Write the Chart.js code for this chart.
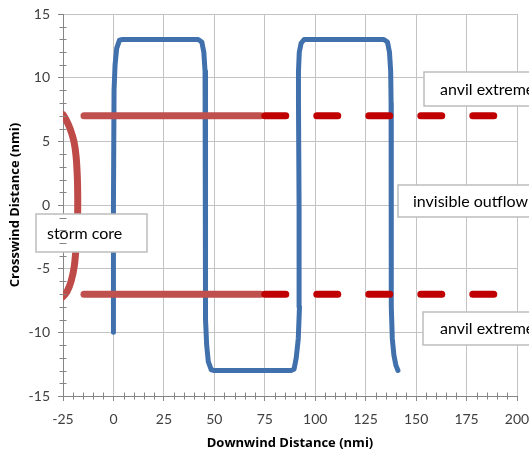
<!DOCTYPE html>
<html>
<head>
<meta charset="utf-8">
<script src="https://cdn.jsdelivr.net/npm/chart.js@4/dist/chart.umd.min.js"></script>
<style>
html,body{margin:0;padding:0;background:#fff;}
#wrap{width:529px;height:454px;position:relative;}
</style>
</head>
<body>
<div id="wrap"><canvas id="c" width="529" height="454"></canvas></div>
<script>
// ---- data ----
const xTicks = [-25, 0, 25, 50, 75, 100, 125, 150, 175, 200];
const yTicks = [-15, -10, -5, 0, 5, 10, 15];

const outflowX = [0, 0, 0.3, 0.8, 1.6, 3, 4.5, 42, 43.8, 44.8, 45.4, 45.6, 45.6, 45.7, 46.2, 47, 48.5, 50,
  88, 89.5, 90.6, 91.6, 92.2, 92.0, 91.7, 91.7, 92.1, 93, 94.5, 96,
  134, 135.8, 136.8, 137.4, 137.6, 137.6, 137.8, 138.2, 139, 140, 141];
const outflowY = [-10, 0, 9, 11, 12.3, 12.95, 13, 13, 12.8, 12, 10.5, 8, 0, -9, -11, -12.3, -12.95, -13,
  -13, -12.9, -12, -10.5, -8, 0, 8, 10.5, 12, 12.7, 13, 13,
  13, 12.8, 12, 10.5, 8, 0, -8, -10.5, -11.8, -12.6, -13];

const coreX = [-25, -23.5, -21.5, -19.6, -18.5, -17.9, -17.7, -17.8, -18.4, -19.4, -21, -23, -25];
const coreY = [7.1, 6.7, 6, 5, 3.8, 2.2, 0.5, -1.2, -3, -4.8, -6, -6.8, -7.2];

const anvilSolidX = [-14.6, 73];
const anvilDashX = [75, 189];
const anvilTopY = 7;
const anvilBottomY = -7;

const labelTexts = ['storm core', 'anvil extreme', 'invisible outflow', 'anvil extreme'];

// ---- build points ----
const pts = (xs, ys) => xs.map((x, i) => ({x: x, y: Array.isArray(ys) ? ys[i] : ys}));

const labelBoxes = [
  {l: 36, t: 214, r: 147, b: 252, tx: 47},
  {l: 424, t: 72, r: 540, b: 106, tx: 440},
  {l: 398, t: 185, r: 540, b: 217, tx: 413},
  {l: 423, t: 312, r: 540, b: 345, tx: 440}
];

const FONT = 'Lato, "Open Sans", sans-serif';
const TFONT = '"Open Sans", Lato, sans-serif';
const AXIS = '#868686';
const GRID = '#C3C3C3';

const minorTicks = {
  id: 'minorTicks',
  afterDraw(chart) {
    const ctx = chart.ctx, xs = chart.scales.x, ys = chart.scales.y, a = chart.chartArea;
    ctx.save();
    ctx.strokeStyle = AXIS; ctx.lineWidth = 1;
    ctx.beginPath();
    for (let v = xs.min; v <= xs.max; v += 5) {
      if (v % 25 === 0) continue;
      const p = Math.round(xs.getPixelForValue(v)) + 0.5;
      ctx.moveTo(p, a.bottom - 3.5); ctx.lineTo(p, a.bottom + 3.5);
    }
    for (let v = ys.min; v <= ys.max; v += 1) {
      if (v % 5 === 0) continue;
      const p = Math.round(ys.getPixelForValue(v)) + 0.5;
      ctx.moveTo(a.left - 3.5, p); ctx.lineTo(a.left + 3.5, p);
    }
    ctx.stroke();
    ctx.restore();
  },
  afterDatasetsDraw(chart) {
    const ctx = chart.ctx;
    ctx.save();
    ctx.font = '16px ' + FONT;
    ctx.textBaseline = 'middle';
    labelBoxes.forEach((b, i) => {
      ctx.fillStyle = '#ffffff';
      ctx.fillRect(b.l, b.t, b.r - b.l, b.b - b.t);
      ctx.strokeStyle = '#BDBDBD'; ctx.lineWidth = 1.5;
      ctx.strokeRect(b.l, b.t, b.r - b.l, b.b - b.t);
      ctx.fillStyle = '#000000';
      ctx.fillText(labelTexts[i], b.tx, (b.t + b.b) / 2 + 0.5);
    });
    ctx.restore();
  }
};

const zeroPad = s => { s.paddingTop = 0; s.paddingBottom = 0; s.paddingLeft = 0; s.paddingRight = 0; };

new Chart(document.getElementById('c'), {
  type: 'scatter',
  data: {
    datasets: [
      {data: pts(outflowX, outflowY), borderColor: '#4171AD', borderWidth: 5, showLine: true, pointRadius: 0, tension: 0, order: 2, borderJoinStyle: 'round', borderCapStyle: 'round'},
      {data: pts(coreX, coreY), borderColor: '#BE4B48', borderWidth: 7, showLine: true, pointRadius: 0, tension: 0.3, order: 1, borderCapStyle: 'round', borderJoinStyle: 'round'},
      {data: pts(anvilSolidX, anvilTopY), borderColor: '#C0504D', borderWidth: 7, showLine: true, pointRadius: 0, order: 1, borderCapStyle: 'round'},
      {data: pts(anvilSolidX, anvilBottomY), borderColor: '#C0504D', borderWidth: 7, showLine: true, pointRadius: 0, order: 1, borderCapStyle: 'round'},
      {data: pts(anvilDashX, anvilTopY), borderColor: '#C00000', borderWidth: 7, borderDash: [21, 31], showLine: true, pointRadius: 0, order: 0, borderCapStyle: 'round'},
      {data: pts(anvilDashX, anvilBottomY), borderColor: '#C00000', borderWidth: 7, borderDash: [21, 31], showLine: true, pointRadius: 0, order: 0, borderCapStyle: 'round'}
    ]
  },
  options: {
    responsive: false,
    animation: false,
    layout: {padding: {top: 14, right: 12, left: 0, bottom: 0}},
    plugins: {legend: {display: false}, tooltip: {enabled: false}},
    scales: {
      x: {
        type: 'linear', min: xTicks[0], max: xTicks[xTicks.length - 1],
        afterBuildTicks: s => { s.ticks = xTicks.map(v => ({value: v})); },
        afterFit: s => { s.height = 58; zeroPad(s); },
        grid: {color: GRID, lineWidth: 1, tickLength: 5, tickColor: AXIS},
        border: {color: AXIS, width: 1},
        ticks: {color: '#404040', font: {family: FONT, size: 14}, padding: 10, maxRotation: 0, autoSkip: false},
        title: {display: true, text: 'Downwind Distance (nmi)', color: '#000', font: {family: TFONT, size: 13, weight: 'bold'}, padding: {top: 0, bottom: 3}}
      },
      y: {
        type: 'linear', min: yTicks[0], max: yTicks[yTicks.length - 1],
        afterBuildTicks: s => { s.ticks = yTicks.map(v => ({value: v})); },
        afterFit: s => { s.width = 63; zeroPad(s); },
        grid: {color: GRID, lineWidth: 1, tickLength: 5, tickColor: AXIS},
        border: {color: AXIS, width: 1},
        ticks: {color: '#404040', font: {family: FONT, size: 14}, padding: 8, autoSkip: false},
        title: {display: true, text: 'Crosswind Distance (nmi)', color: '#000', font: {family: TFONT, size: 13, weight: 'bold'}, padding: {top: 7, bottom: 0}}
      }
    }
  },
  plugins: [minorTicks]
});
</script>
</body>
</html>
